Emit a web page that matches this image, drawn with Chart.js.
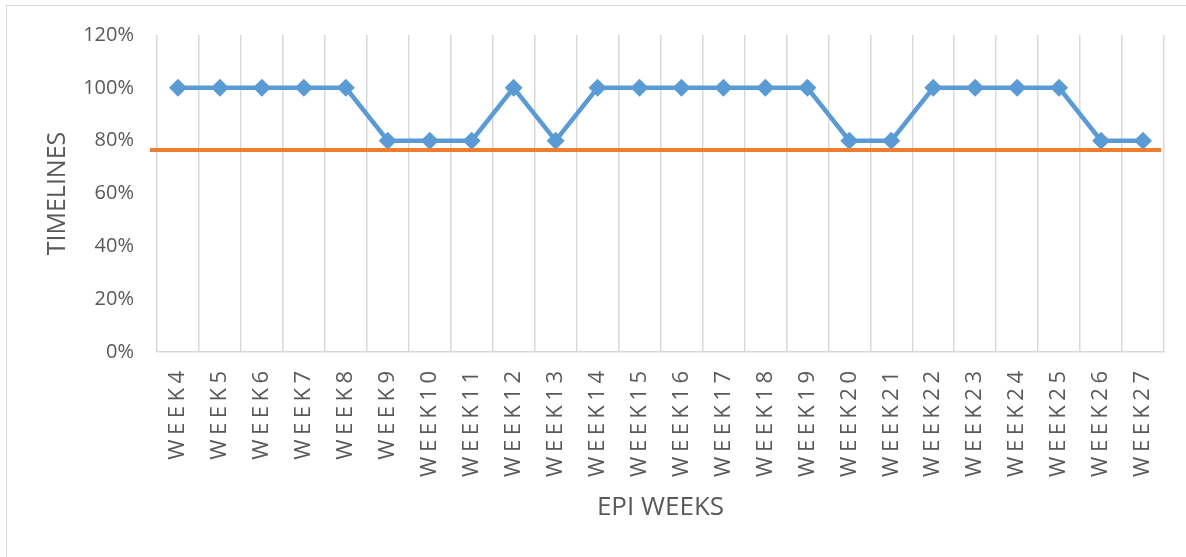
<!DOCTYPE html>
<html>
<head>
<meta charset="utf-8">
<script src="https://cdn.jsdelivr.net/npm/chart.js@4/dist/chart.umd.min.js"></script>
<style>
  html, body { margin: 0; padding: 0; background: #fff; }
  #wrap { position: relative; width: 1186px; height: 557px; overflow: hidden; }
  #frame { position: absolute; left: 6px; top: 5px; width: 1200px; height: 570px;
           border-left: 1.5px solid #d9d9d9; border-top: 1.5px solid #d9d9d9; }
  canvas { position: absolute; left: 0; top: 0; }
</style>
</head>
<body>
<div id="wrap">
  <div id="frame"></div>
  <canvas id="chart" width="1186" height="557"></canvas>
</div>
<script>
// EPI weeks and timeliness
const weeks = ['WEEK4','WEEK5','WEEK6','WEEK7','WEEK8','WEEK9','WEEK10','WEEK11','WEEK12','WEEK13',
  'WEEK14','WEEK15','WEEK16','WEEK17','WEEK18','WEEK19','WEEK20','WEEK21','WEEK22','WEEK23',
  'WEEK24','WEEK25','WEEK26','WEEK27'];
const timeliness = [1, 1, 1, 1, 1, 0.8, 0.8, 0.8, 1, 0.8,
  1, 1, 1, 1, 1, 1, 0.8, 0.8, 1, 1,
  1, 1, 0.8, 0.8];
const target = 0.765;
const yTicks = [0, 0.2, 0.4, 0.6, 0.8, 1.0, 1.2];

const GREY = '#595959';
const GRID = '#d9d9d9';

// orange target line, drawn over the series
const targetLine = {
  id: 'targetLine',
  afterDatasetsDraw(chart) {
    const { ctx, chartArea } = chart;
    const y = chart.scales.y.getPixelForValue(target);
    ctx.save();
    ctx.strokeStyle = '#ed7d31';
    ctx.lineWidth = 4;
    ctx.beginPath();
    ctx.moveTo(chartArea.left - 7, y);
    ctx.lineTo(chartArea.right - 3, y);
    ctx.stroke();
    ctx.restore();
  }
};

// x labels with Excel-like letter spacing
const spacedLabels = {
  id: 'spacedLabels',
  afterDraw(chart) {
    const { ctx } = chart;
    const x = chart.scales.x;
    ctx.save();
    ctx.font = '22px "Open Sans"';
    ctx.fillStyle = GREY;
    ctx.letterSpacing = '4.5px';
    ctx.textAlign = 'right';
    ctx.textBaseline = 'middle';
    weeks.forEach((w, i) => {
      ctx.save();
      ctx.translate(x.getPixelForTick(i), x.top + 19);
      ctx.rotate(-Math.PI / 2);
      ctx.fillText(w, 4.5, 0);
      ctx.restore();
    });
    ctx.restore();
  }
};

new Chart(document.getElementById('chart'), {
  type: 'line',
  data: {
    labels: weeks,
    datasets: [{
      data: timeliness,
      borderColor: '#5b9bd5',
      backgroundColor: '#5b9bd5',
      borderWidth: 4.5,
      pointStyle: 'rectRot',
      pointRadius: 9,
      pointBorderWidth: 0,
      pointBackgroundColor: '#5b9bd5',
      tension: 0,
      fill: false,
    }]
  },
  options: {
    responsive: false,
    devicePixelRatio: 1,
    animation: false,
    layout: { padding: { left: 0, top: 34, right: 22, bottom: 0 } },
    plugins: { legend: { display: false }, tooltip: { enabled: false } },
    scales: {
      x: {
        offset: true,
        grid: { offset: true, color: GRID, lineWidth: 1.5, drawTicks: false },
        border: { display: true, color: GRID, width: 1.5 },
        ticks: { display: false },
        afterFit: s => { s.height = 205; },
        title: { display: true, text: 'EPI WEEKS', color: GREY,
                 font: { family: 'Open Sans', size: 26 }, padding: { top: 0, bottom: 34 } }
      },
      y: {
        min: 0,
        max: 1.2,
        afterBuildTicks: s => { s.ticks = yTicks.map(v => ({ value: v })); },
        grid: { display: false, drawTicks: false },
        border: { display: false },
        ticks: { color: GREY, padding: 23, font: { family: 'Open Sans', size: 20 },
                 callback: v => Math.round(v * 100) + '%' },
        afterFit: s => { s.width = 157; },
        title: { display: true, text: 'TIMELINES', color: GREY,
                 font: { family: 'Open Sans', size: 25 }, padding: { top: 43, bottom: 0 } }
      }
    }
  },
  plugins: [targetLine, spacedLabels]
});
</script>
</body>
</html>
